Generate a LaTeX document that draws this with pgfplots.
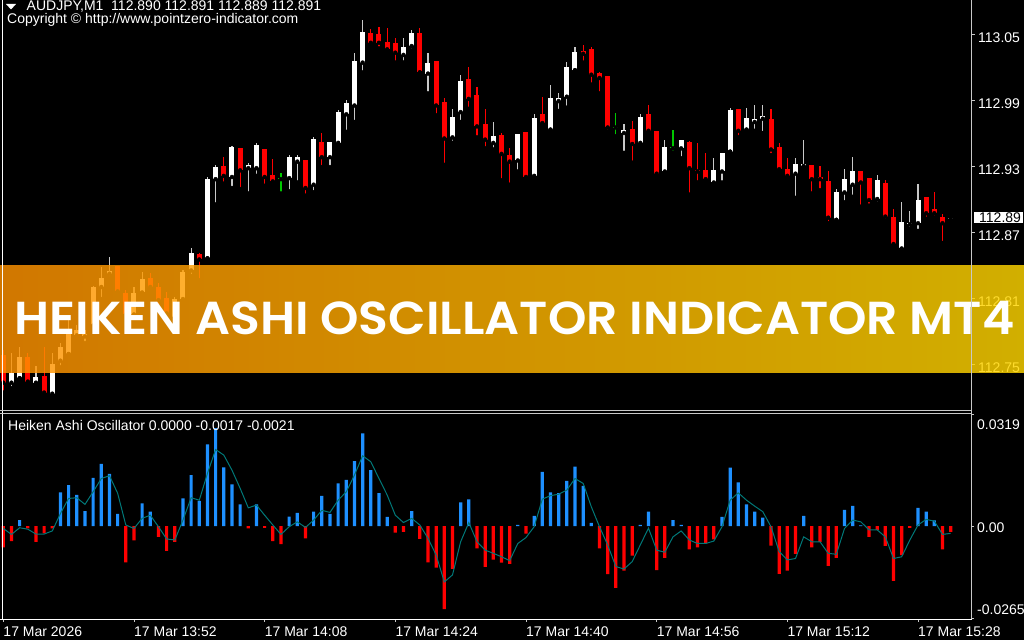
\documentclass[border=0pt]{standalone}
\usepackage{fontspec}
\setmainfont{Liberation Sans}
\newfontfamily\bannerfont{Poppins SemiBold}
\usepackage{pgfplots}
\pgfplotsset{compat=1.18}
\usepackage{pgfplotstable}
\newcommand\mtf{\fontsize{14}{16}\selectfont}
\definecolor{wickw}{RGB}{200,200,200}
\definecolor{bearr}{RGB}{255,0,0}
\definecolor{dojig}{RGB}{0,200,0}
\definecolor{osblue}{RGB}{30,144,255}
\definecolor{sigc}{RGB}{0,120,120}
\definecolor{banL}{RGB}{255,146,0}
\definecolor{banR}{RGB}{255,214,0}
\definecolor{frame}{RGB}{200,200,200}

\pgfplotstableread{
i O H L C
1 112.733 112.760 112.728 112.742
2 112.737 112.765 112.737 112.756
4 112.733 112.748 112.731 112.738
6 112.723 112.760 112.721 112.750
7 112.753 112.769 112.747 112.765
8 112.759 112.790 112.759 112.777
9 112.776 112.785 112.773 112.781
10 112.775 112.781 112.769 112.777
11 112.785 112.821 112.782 112.820
12 112.820 112.838 112.809 112.828
13 112.832 112.847 112.828 112.835
16 112.795 112.820 112.792 112.815
17 112.815 112.834 112.814 112.827
21 112.793 112.811 112.791 112.809
22 112.809 112.835 112.808 112.834
23 112.835 112.855 112.830 112.851
25 112.846 112.920 112.846 112.918
26 112.918 112.931 112.895 112.929
28 112.920 112.948 112.910 112.947
30 112.928 112.933 112.905 112.931
31 112.928 112.951 112.921 112.949
35 112.919 112.940 112.907 112.938
36 112.934 112.940 112.915 112.938
38 112.913 112.956 112.906 112.955
40 112.938 112.952 112.929 112.952
41 112.951 112.981 112.948 112.979
42 112.977 112.990 112.961 112.987
43 112.985 113.033 112.970 113.025
44 113.024 113.063 113.015 113.052
49 113.031 113.046 113.024 113.038
50 113.039 113.054 113.035 113.051
52 113.014 113.033 112.996 113.024
55 112.956 112.982 112.951 112.975
56 112.979 113.013 112.970 113.007
60 112.951 112.970 112.945 112.957
63 112.935 112.959 112.925 112.959
65 112.921 112.977 112.920 112.974
67 112.963 113.004 112.963 112.992
68 112.989 112.996 112.980 112.992
69 112.993 113.025 112.983 113.020
70 113.017 113.038 113.017 113.034
76 112.960 112.968 112.942 112.963
78 112.951 112.977 112.949 112.975
81 112.925 112.954 112.924 112.947
83 112.946 112.954 112.937 112.954
87 112.915 112.937 112.912 112.926
88 112.925 112.942 112.915 112.942
89 112.943 112.983 112.943 112.981
91 112.963 112.983 112.963 112.974
92 112.970 112.985 112.962 112.973
93 112.973 112.985 112.960 112.975
97 112.923 112.937 112.901 112.932
98 112.930 112.954 112.929 112.932
102 112.881 112.909 112.881 112.906
103 112.906 112.927 112.897 112.918
104 112.913 112.938 112.902 112.925
107 112.900 112.922 112.896 112.917
110 112.855 112.897 112.854 112.879
111 112.877 112.889 112.873 112.878
112 112.878 112.914 112.871 112.899
116 112.882 112.883 112.879 112.883
}\bull

\pgfplotstableread{
i O H L C
0 112.758 112.763 112.724 112.733
3 112.756 112.760 112.733 112.734
5 112.739 112.765 112.722 112.724
14 112.839 112.839 112.815 112.816
15 112.815 112.817 112.787 112.795
18 112.828 112.833 112.818 112.820
19 112.820 112.824 112.801 112.808
20 112.810 112.815 112.792 112.796
24 112.850 112.851 112.826 112.845
27 112.930 112.938 112.914 112.921
29 112.946 112.946 112.909 112.926
32 112.945 112.945 112.912 112.920
33 112.922 112.936 112.915 112.916
37 112.935 112.935 112.903 112.910
39 112.952 112.960 112.929 112.938
45 113.051 113.055 113.041 113.042
46 113.050 113.056 113.037 113.042
47 113.043 113.055 113.035 113.036
48 113.042 113.046 113.024 113.033
51 113.051 113.055 113.015 113.015
53 113.025 113.025 112.976 112.985
54 112.988 112.992 112.931 112.955
57 113.009 113.020 112.982 112.991
58 112.995 113.002 112.956 112.966
59 112.968 112.982 112.946 112.954
61 112.958 112.960 112.917 112.941
62 112.940 112.946 112.913 112.934
64 112.961 112.961 112.917 112.920
66 112.977 112.993 112.966 112.969
71 113.035 113.040 113.024 113.032
72 113.036 113.038 113.004 113.013
73 113.015 113.015 112.996 113.010
74 113.012 113.012 112.961 112.965
77 112.964 112.971 112.933 112.950
79 112.977 112.985 112.960 112.962
80 112.962 112.962 112.920 112.923
84 112.952 112.953 112.904 112.928
85 112.926 112.951 112.915 112.925
86 112.926 112.942 112.915 112.918
90 112.982 112.982 112.956 112.962
94 112.973 112.982 112.940 112.945
95 112.947 112.951 112.926 112.927
96 112.927 112.937 112.918 112.921
99 112.931 112.931 112.905 112.918
100 112.920 112.930 112.908 112.918
101 112.916 112.925 112.878 112.883
105 112.925 112.925 112.893 112.915
106 112.919 112.919 112.894 112.899
108 112.915 112.917 112.880 112.884
109 112.884 112.891 112.856 112.859
113 112.902 112.902 112.882 112.887
114 112.891 112.906 112.883 112.887
115 112.884 112.886 112.860 112.878
}\bear

\pgfplotstableread{
i O H L C
34 112.918 112.924 112.905 112.918
75 112.965 112.978 112.957 112.965
82 112.946 112.963 112.942 112.946
}\doji

% Heiken Ashi Oscillator values in units of 0.0001
\pgfplotstableread{
i v
2 17
7 96
8 117
9 89
10 43
11 138
12 178
13 149
14 35
17 65
18 41
22 79
23 146
24 72
25 234
26 280
27 168
28 119
29 62
31 62
35 27
36 38
38 41
39 86
40 35
41 122
42 132
43 186
44 265
45 160
46 94
47 26
50 43
56 68
57 76
63 3
65 29
66 155
67 96
68 94
69 129
70 170
71 115
72 9
78 3
79 41
82 17
83 3
88 26
89 167
90 125
91 62
92 41
93 24
98 29
103 46
104 58
105 2
112 52
113 41
114 16
}\oscup

\pgfplotstableread{
i v
0 -61
1 -43
3 -7
4 -45
5 -21
6 -7
15 -104
16 -41
19 -31
20 -71
21 -45
30 -7
32 -5
33 -43
34 -52
37 -35
48 -19
49 -17
51 -37
52 -104
53 -119
54 -238
55 -123
58 -64
59 -117
60 -96
61 -105
62 -108
64 -22
73 -64
74 -138
75 -177
76 -128
77 -85
80 -126
81 -91
84 -67
85 -61
86 -50
87 -38
94 -56
95 -137
96 -128
97 -80
99 -61
100 -45
101 -114
102 -91
106 -31
107 -11
108 -57
109 -157
110 -83
111 -5
115 -67
116 -17
}\oscdn

\pgfplotstableread{
i v
0 -7
1 -24
2 -5
3 -9
4 -23
5 -23
6 -14
7 36
8 79
9 81
10 62
11 98
12 136
13 144
14 94
15 3
16 -7
17 22
18 31
19 -2
20 -37
21 -40
22 17
23 81
24 74
25 151
26 219
27 203
28 160
29 108
30 52
31 60
32 31
33 3
34 -24
35 -2
36 12
37 -4
38 17
39 45
40 39
41 74
42 98
43 146
44 201
45 184
46 136
47 89
48 31
49 10
50 22
51 3
52 -35
53 -83
54 -160
55 -140
56 -45
57 10
58 -45
59 -69
60 -78
61 -88
62 -99
63 -50
64 -33
65 -2
66 77
67 87
68 91
69 103
70 136
71 122
72 55
73 -2
74 -54
75 -116
76 -123
77 -102
78 -54
79 -6
80 -69
81 -75
82 -31
83 -14
84 -40
85 -50
86 -50
87 -43
88 -2
89 74
90 95
91 74
92 57
93 41
94 -2
95 -73
96 -97
97 -93
98 -31
99 -45
100 -45
101 -78
102 -81
103 -7
104 17
105 12
106 -11
107 -11
108 -31
109 -93
110 -88
111 -40
112 3
113 19
114 14
115 -24
116 -21
}\oscsig

\begin{document}
\begin{tikzpicture}[x=1pt,y=1pt]
\useasboundingbox (0,0) rectangle (1024,640);
\fill[black] (0,0) rectangle (1024,640);

% ---------------- main price window ----------------
\begin{axis}[
  at={(0pt,229pt)}, anchor=south west, scale only axis,
  width=971pt, height=411pt,
  xmin=-0.404, xmax=118.49, ymin=112.70727, ymax=113.08091,
  axis line style={draw=none},
  xtick=\empty,
  ytick={113.05,112.99,112.93,112.87,112.81,112.75},
  yticklabels={113.05,112.99,112.93,112.87,112.81,112.75},
  ytick pos=right, yticklabel pos=right,
  tick align=outside, major tick length=4pt,
  tick style={draw=frame, line width=0.8pt},
  yticklabel style={font=\mtf, text=white, anchor=base west, inner sep=0pt, xshift=3pt, yshift=-9pt},
  clip=true,
]
% wicks
\addplot[only marks, mark=none, error bars/.cd, y dir=plus, y explicit, error mark=none,
  error bar style={line width=1.2pt, draw=wickw}]
  table[x=i, y=L, y error expr=\thisrow{H}-\thisrow{L}] {\bull};
\addplot[only marks, mark=none, error bars/.cd, y dir=plus, y explicit, error mark=none,
  error bar style={line width=1.2pt, draw=bearr}]
  table[x=i, y=L, y error expr=\thisrow{H}-\thisrow{L}] {\bear};
\addplot[only marks, mark=none, error bars/.cd, y dir=plus, y explicit, error mark=none,
  error bar style={line width=1.2pt, draw=dojig}]
  table[x=i, y=L, y error expr=\thisrow{H}-\thisrow{L}] {\doji};
% bodies
\addplot[only marks, mark=none, error bars/.cd, y dir=plus, y explicit, error mark=none,
  error bar style={line width=5pt, draw=white}]
  table[x=i, y=O, y error expr={max(\thisrow{C}-\thisrow{O},0.0009)}] {\bull};
\addplot[only marks, mark=none, error bars/.cd, y dir=plus, y explicit, error mark=none,
  error bar style={line width=5pt, draw=bearr}]
  table[x=i, y=C, y error expr={max(\thisrow{O}-\thisrow{C},0.0009)}] {\bear};
\addplot[only marks, mark=none, error bars/.cd, y dir=plus, y explicit, error mark=none,
  error bar style={line width=5pt, draw=dojig}]
  table[x=i, y=O, y error expr={0.0009}] {\doji};
\end{axis}

% ---------------- banner ----------------
\shade[left color=banL, right color=banR, fill opacity=0.82] (0,267) rectangle (1024,374);
\node[anchor=base, inner sep=0pt, text=white] at (514.5,305)
  {\resizebox{1000pt}{33.3pt}{\bannerfont HEIKEN ASHI OSCILLATOR INDICATOR MT4}};

% ---------------- oscillator window ----------------
\begin{axis}[
  at={(0pt,21.4pt)}, anchor=south west, scale only axis,
  width=971pt, height=204pt,
  xmin=-0.404, xmax=118.49, ymin=-265, ymax=319,
  axis line style={draw=none},
  xtick={0,16,32,48,64,80,96,112},
  xticklabels={17 Mar 2026,17 Mar 13:52,17 Mar 14:08,17 Mar 14:24,17 Mar 14:40,17 Mar 14:56,17 Mar 15:12,17 Mar 15:28},
  xtick pos=bottom, xticklabel pos=bottom,
  ytick={319,0,-265},
  yticklabels={\raisebox{-15.4pt}{0.0319},\raisebox{-6pt}{0.00},\raisebox{4.6pt}{-0.0265}},
  ytick pos=right, yticklabel pos=right,
  tick align=outside, major tick length=3pt,
  tick style={draw=frame, line width=0.8pt},
  yticklabel style={font=\mtf, text=white, anchor=base west, inner sep=0pt, xshift=3pt},
  xticklabel style={font=\mtf, text=white, anchor=base west, inner sep=0pt, yshift=-15pt},
  clip=true,
]
\addplot[ybar, bar width=3.2pt, bar shift=0pt, fill=osblue, draw=none] table[x=i, y=v] {\oscup};
\addplot[ybar, bar width=3.2pt, bar shift=0pt, fill=bearr, draw=none] table[x=i, y=v] {\oscdn};
\addplot[sigc, line width=1pt, mark=none] table[x=i, y=v] {\oscsig};
\end{axis}

% ---------------- frames ----------------
\draw[white, line width=1pt] (2.5,21) -- (2.5,640);
\draw[frame, line width=1pt] (971.5,21) -- (971.5,640);
\draw[frame, line width=1pt] (0,229.5) -- (971.5,229.5);
\draw[frame, line width=1pt] (0,226.5) -- (971.5,226.5);
\draw[white, line width=1pt] (0,21) -- (971.5,21);

% current price box
\fill[white] (974,417) rectangle (1023,428);
\node[anchor=base west, inner sep=0pt, text=black, font=\mtf] at (979,417.6) {112.89};

% header texts
\fill[white] (6,636) -- (16,636) -- (11,630.5) -- cycle;
\node[anchor=base west, inner sep=0pt, text=white, font=\mtf] at (26.5,629.3)
  {AUDJPY,M1\ \ 112.890 112.891 112.889 112.891};
\node[anchor=base west, inner sep=0pt, text=white, font=\mtf] at (7,616)
  {Copyright © http://www.pointzero-indicator.com};
\node[anchor=base west, inner sep=0pt, text=white, font=\mtf] at (8,210)
  {Heiken Ashi Oscillator 0.0000 -0.0017 -0.0021};
\end{tikzpicture}
\end{document}
